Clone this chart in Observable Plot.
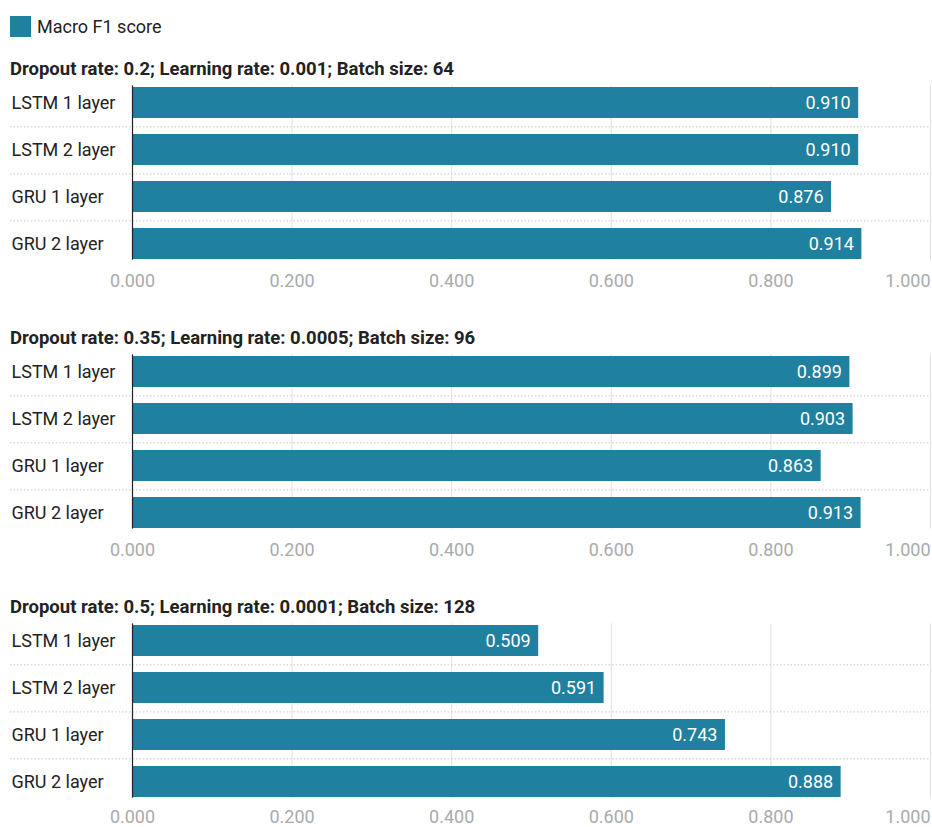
<!DOCTYPE html>
<html>
<head>
<meta charset="utf-8">
<script src="https://cdn.jsdelivr.net/npm/d3@7"></script>
<script src="https://cdn.jsdelivr.net/npm/@observablehq/plot@0.6"></script>
<style>
  body { margin: 0; background: #fff; font-family: Roboto, "Noto Sans", sans-serif; }
  #root { position: relative; width: 932px; height: 827px; }
  .legend { position: absolute; left: 10px; top: 16px; display: flex; align-items: center; font-size: 18px; color: #222; }
  .legend .sw { width: 21px; height: 21px; background: #1f80a0; margin-right: 6px; }
  .panel { position: absolute; left: 0; width: 932px; }
  .panel .title { position: absolute; left: 10px; top: 0; height: 22px; line-height: 22px; font-size: 18.5px; font-weight: 700; color: #222; white-space: nowrap; z-index: 2; }
  .panel .chart { position: absolute; left: 0; top: 18px; z-index: 1; }
</style>
</head>
<body>
<div id="root"></div>
<script>
// Models compared in every configuration
const models = ["LSTM 1 layer", "LSTM 2 layer", "GRU 1 layer", "GRU 2 layer"];

// Hyper-parameter configurations (one panel each)
const configs = [
  "Dropout rate: 0.2; Learning rate: 0.001; Batch size: 64",
  "Dropout rate: 0.35; Learning rate: 0.0005; Batch size: 96",
  "Dropout rate: 0.5; Learning rate: 0.0001; Batch size: 128"
];

// Macro F1 score per model, per configuration
const f1Config1 = [0.910, 0.910, 0.876, 0.914];
const f1Config2 = [0.899, 0.903, 0.863, 0.913];
const f1Config3 = [0.509, 0.591, 0.743, 0.888];
const f1Scores = [f1Config1, f1Config2, f1Config3];

// Axis tick values
const xTicks = [0, 0.2, 0.4, 0.6, 0.8, 1.0];

const seriesName = "Macro F1 score";
const barColor = "#1f80a0";
const fmt = d3.format(".3f");

const root = document.getElementById("root");

// Legend
const legend = document.createElement("div");
legend.className = "legend";
legend.innerHTML = `<div class="sw"></div><span>${seriesName}</span>`;
root.appendChild(legend);

const bandHeight = 191;
const step = bandHeight / models.length;
const outerPad = step * 0.175;

configs.forEach((title, i) => {
  const data = models.map((m, j) => ({model: m, score: f1Scores[i][j]}));
  // the last panel sits against the page bottom, so its tick labels sit a touch tighter
  const tickPad = i < configs.length - 1 ? 6 : 4;

  const panel = document.createElement("div");
  panel.className = "panel";
  panel.style.top = (58 + i * 269) + "px";

  const chart = Plot.plot({
    width: 932,
    height: 1 + bandHeight + 30,
    marginTop: 1,
    marginBottom: 30,
    marginLeft: 10,
    marginRight: 2,
    style: {fontFamily: "Roboto, 'Noto Sans', sans-serif", fontSize: "18px", background: "transparent", overflow: "visible"},
    x: {domain: [0, 1], range: [132, 930]},
    y: {domain: models, paddingInner: 0.35, paddingOuter: 0.175},
    marks: [
      // vertical grid lines, spanning the bars only
      Plot.ruleX(xTicks, {stroke: "#e2e2e2", strokeWidth: 1, insetTop: outerPad, insetBottom: outerPad}),
      // dotted separators between rows
      Plot.ruleY(models.slice(0, -1), {stroke: "#c8c8c8", strokeDasharray: "1.5,2", dy: step / 2}),
      Plot.barX(data, {x: "score", y: "model", fill: barColor}),
      // value labels inside bar ends
      Plot.text(data, {x: "score", y: "model", text: d => fmt(d.score), textAnchor: "end", dx: -8, fill: "#fff", fontSize: 18}),
      // baseline
      Plot.ruleX([0], {stroke: "#222", strokeWidth: 1.2, insetTop: outerPad, insetBottom: outerPad}),
      Plot.axisY({anchor: "left", tickSize: 0, tickPadding: 0, textAnchor: "start", dx: 1, color: "#222", label: null, fontSize: 18}),
      Plot.axisX({anchor: "bottom", ticks: xTicks.slice(0, -1), tickFormat: fmt, tickSize: 0, tickPadding: tickPad, color: "#aaa", label: null, fontSize: 18}),
      Plot.axisX({anchor: "bottom", ticks: xTicks.slice(-1), tickFormat: fmt, tickSize: 0, tickPadding: tickPad, textAnchor: "end", color: "#aaa", label: null, fontSize: 18})
    ]
  });
  chart.classList.add("chart");
  panel.appendChild(chart);

  const t = document.createElement("div");
  t.className = "title";
  t.textContent = title;
  panel.appendChild(t);

  root.appendChild(panel);
});
</script>
</body>
</html>
